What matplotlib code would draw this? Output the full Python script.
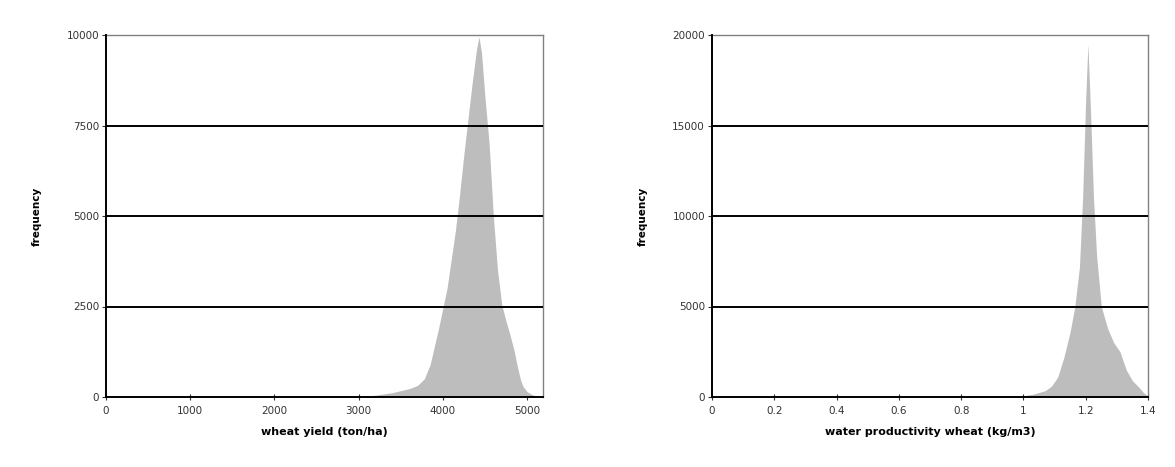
import matplotlib
matplotlib.use('Agg')
import matplotlib.pyplot as plt
import numpy as np

# wheat yield histogram (ton/ha -> frequency)
yield_x = [2900, 3000, 3200, 3400, 3600, 3700, 3780, 3850, 3900, 3950,
           4000, 4050, 4100, 4150, 4200, 4250, 4300, 4350, 4400, 4430, 4460,
           4500, 4550, 4600, 4650, 4700, 4750, 4800, 4850, 4880, 4920, 4950,
           5000, 5050, 5100, 5150, 5190]
yield_freq = [0, 10, 50, 120, 230, 320, 500, 900, 1400, 1900,
              2450, 3000, 3800, 4600, 5600, 6700, 7700, 8700, 9600, 9950, 9500,
              8300, 7000, 5000, 3500, 2550, 2100, 1700, 1250, 900, 500, 300,
              150, 80, 30, 10, 0]

# water productivity histogram (kg/m3 -> frequency)
wp_x = [1.00, 1.01, 1.03, 1.05, 1.07, 1.09, 1.11, 1.13, 1.15, 1.165, 1.18,
        1.19, 1.20, 1.207, 1.215, 1.225, 1.235, 1.25, 1.27, 1.29, 1.31,
        1.33, 1.35, 1.37, 1.385, 1.40]
wp_freq = [0, 100, 150, 250, 350, 600, 1100, 2200, 3600, 5000, 7200,
           11000, 16500, 19500, 16000, 11000, 7800, 5000, 3800, 3000, 2500,
           1500, 900, 550, 250, 50]

left_xticks = [0, 1000, 2000, 3000, 4000, 5000]
left_yticks = [0, 2500, 5000, 7500, 10000]
right_xticks = [0, 0.2, 0.4, 0.6, 0.8, 1, 1.2, 1.4]
right_xlabels = ['0', '0.2', '0.4', '0.6', '0.8', '1', '1.2', '1.4']
right_yticks = [0, 5000, 10000, 15000, 20000]

fig = plt.figure(figsize=(11.75, 4.67), dpi=100)
ax1 = fig.add_axes([106/1175, 70/467, 437/1175, 362/467])
ax2 = fig.add_axes([712/1175, 70/467, 436/1175, 362/467])

fill_col = '#bdbdbd'
tick_col = '#333333'


def style(ax, xticks, yticks, xlabels=None):
    ax.set_xticks(xticks)
    if xlabels is not None:
        ax.set_xticklabels(xlabels)
    ax.set_yticks(yticks)
    ax.set_ylim(yticks[0], yticks[-1])
    # horizontal gridlines in black, except the top one (plot border)
    for v in yticks[1:-1]:
        ax.axhline(v, color='black', lw=1.4, zorder=3)
    for s in ['left', 'bottom']:
        ax.spines[s].set_color('black')
        ax.spines[s].set_linewidth(1.4)
    for s in ['top', 'right']:
        ax.spines[s].set_color('#808080')
        ax.spines[s].set_linewidth(1.0)
    ax.spines['left'].set_zorder(4)
    ax.spines['bottom'].set_zorder(4)
    ax.tick_params(axis='both', labelsize=7.5, colors=tick_col, length=3, width=0.8)
    ax.tick_params(axis='x', direction='inout', length=5, pad=4)
    ax.tick_params(axis='y', pad=2)
    ax.set_ylabel('frequency', fontsize=7.5, fontweight='bold', labelpad=18)


ax1.fill_between(yield_x, yield_freq, color=fill_col, lw=0, zorder=2)
ax1.set_xlim(0, 5190)
style(ax1, left_xticks, left_yticks)
ax1.set_xlabel('wheat yield (ton/ha)', fontsize=8, fontweight='bold', labelpad=8)

ax2.fill_between(wp_x, wp_freq, color=fill_col, lw=0, zorder=2)
ax2.set_xlim(0, 1.4)
style(ax2, right_xticks, right_yticks, right_xlabels)
ax2.set_xlabel('water productivity wheat (kg/m3)', fontsize=8, fontweight='bold', labelpad=8)

fig.savefig('out.png', dpi=100, facecolor='white')
